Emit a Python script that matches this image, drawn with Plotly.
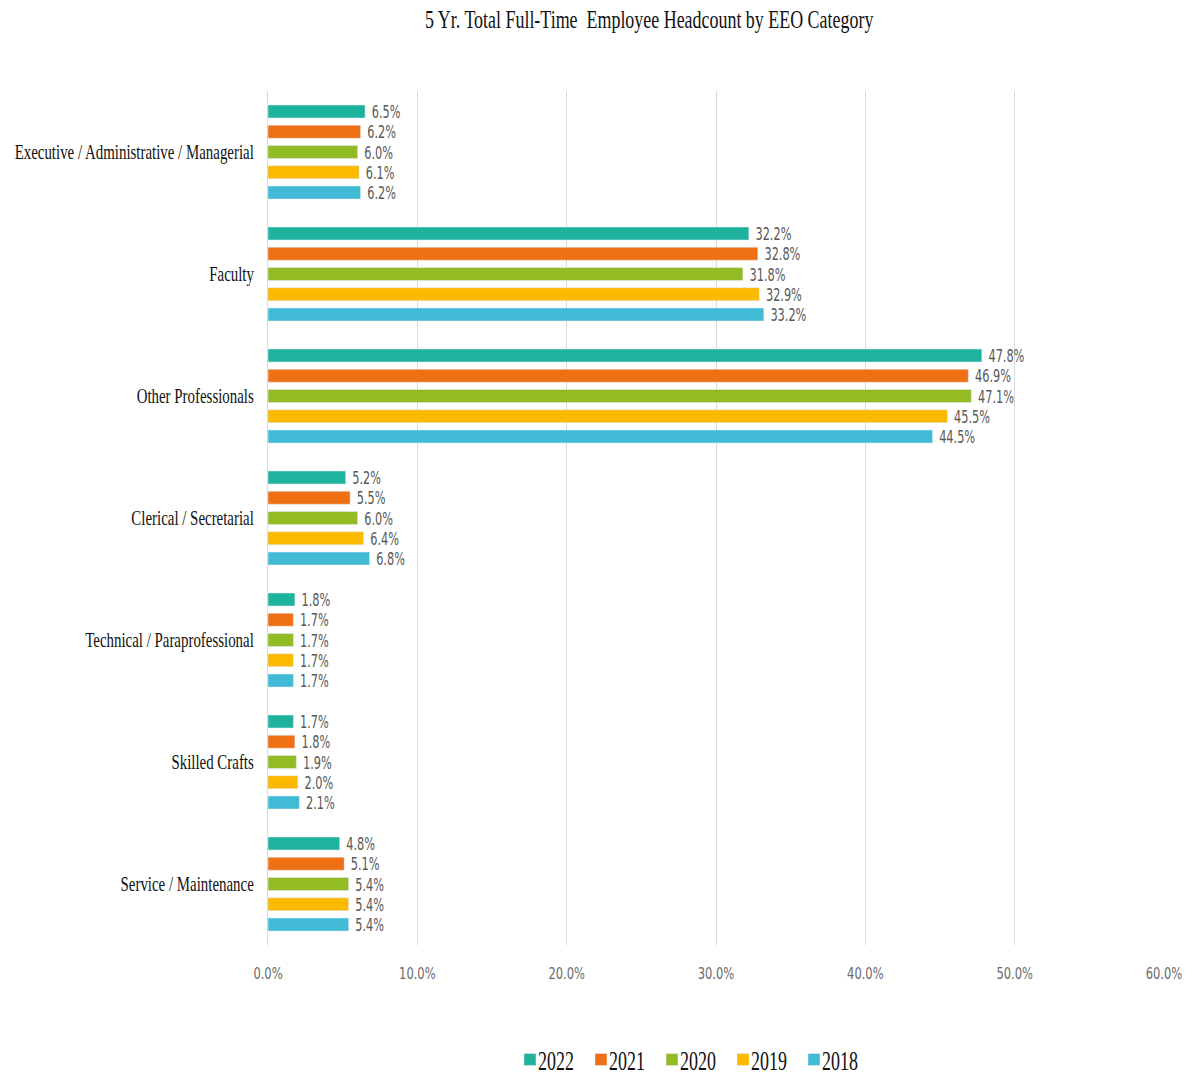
import plotly.graph_objects as go

categories = ["Executive / Administrative / Managerial", "Faculty", "Other Professionals",
              "Clerical / Secretarial", "Technical / Paraprofessional", "Skilled Crafts",
              "Service / Maintenance"]
years = ["2022", "2021", "2020", "2019", "2018"]
values = {
    "2022": [6.5, 32.2, 47.8, 5.2, 1.8, 1.7, 4.8],
    "2021": [6.2, 32.8, 46.9, 5.5, 1.7, 1.8, 5.1],
    "2020": [6.0, 31.8, 47.1, 6.0, 1.7, 1.9, 5.4],
    "2019": [6.1, 32.9, 45.5, 6.4, 1.7, 2.0, 5.4],
    "2018": [6.2, 33.2, 44.5, 6.8, 1.7, 2.1, 5.4],
}
colors = {"2022": "#1DB39C", "2021": "#EF7012", "2020": "#93BB24", "2019": "#FBB900", "2018": "#40BAD5"}
tick_vals = [0, 10, 20, 30, 40, 50, 60]
tick_text = ["0.0%", "10.0%", "20.0%", "30.0%", "40.0%", "50.0%", "60.0%"]

label_font = "DejaVu Sans Condensed"
serif = "Liberation Serif"

fig = go.Figure()
for y in years:
    fig.add_trace(go.Bar(
        name=y, y=categories, x=values[y], orientation="h",
        marker=dict(color=colors[y]),
        text=[f"{v:.1f}%" for v in values[y]], texttemplate=" %{text}",
        textposition="outside",
        textfont=dict(family=label_font, size=18, color="#595959"),
        constraintext="none", cliponaxis=False,
    ))

fig.update_layout(
    width=1189, height=1076,
    barmode="group", bargap=0.17, bargroupgap=0.36,
    paper_bgcolor="white", plot_bgcolor="white",
    margin=dict(l=268, r=25, t=91, b=131, autoexpand=False),
    title=dict(text="5 Yr. Total Full-Time  Employee Headcount by EEO Category",
               xref="container", x=0.546, xanchor="center", y=0.982, yanchor="middle",
               font=dict(family=serif, size=26, color="#111111")),
    xaxis=dict(range=[0, 60], tickvals=tick_vals, ticktext=tick_text,
               showgrid=True, gridcolor="#D9D9D9", gridwidth=1, zeroline=False,
               automargin=False,
               tickfont=dict(family=label_font, size=16, color="#6a6a6a"),
               ticklabelstandoff=17),
    yaxis=dict(autorange="reversed", showline=True, linecolor="#D9D9D9", linewidth=1,
               ticks="", ticklabelstandoff=9, automargin=False,
               tickfont=dict(family=serif, size=21, color="#111111")),
    legend=dict(orientation="h", xref="container", yref="container",
                x=510 / 1189, xanchor="left", y=0.0149, yanchor="middle",
                font=dict(family=serif, size=27, color="#111111"),
                itemwidth=30, entrywidth=26, entrywidthmode="pixels",
                bgcolor="rgba(0,0,0,0)", traceorder="normal"),
    showlegend=True,
)

squeeze_js = """
function sqEl(t, s, mode, dx) {
  try {
    var cur = t.getAttribute('transform') || '';
    var mark = t.getAttribute('data-sq');
    if (mark !== null && mark === cur) return;
    var b = t.getBBox();
    var ax = mode === 'left' ? b.x : (mode === 'right' ? b.x + b.width : b.x + b.width / 2);
    var nt = cur + ' translate(' + (ax + (dx || 0)) + ',0) scale(' + s + ',1) translate(' + (-ax) + ',0)';
    t.setAttribute('transform', nt);
    t.setAttribute('data-sq', nt);
  } catch (e) {}
}
function sq(sel, s, mode, dx) {
  var list = document.querySelectorAll(sel);
  for (var i = 0; i < list.length; i++) { sqEl(list[i], s, mode, dx); }
}
function squeezeAll() {
  sq('.gtitle', 0.69, 'center', 0);
  sq('.ytick text', 0.71, 'right', 0);
  sq('.xtick text', 0.8, 'center', 0);
  sq('text.bartext', 0.7, 'left', 0);
  sq('text.legendtext', 0.665, 'left', -12);
}
squeezeAll();
try {
  var gd0 = document.querySelector('.js-plotly-plot');
  if (gd0 && gd0.on) { gd0.on('plotly_afterplot', squeezeAll); }
} catch (e) {}
[0, 50, 200, 600, 1200, 2500].forEach(function(ms) { setTimeout(squeezeAll, ms); });
"""

fig.write_html("out.html", post_script=squeeze_js)
